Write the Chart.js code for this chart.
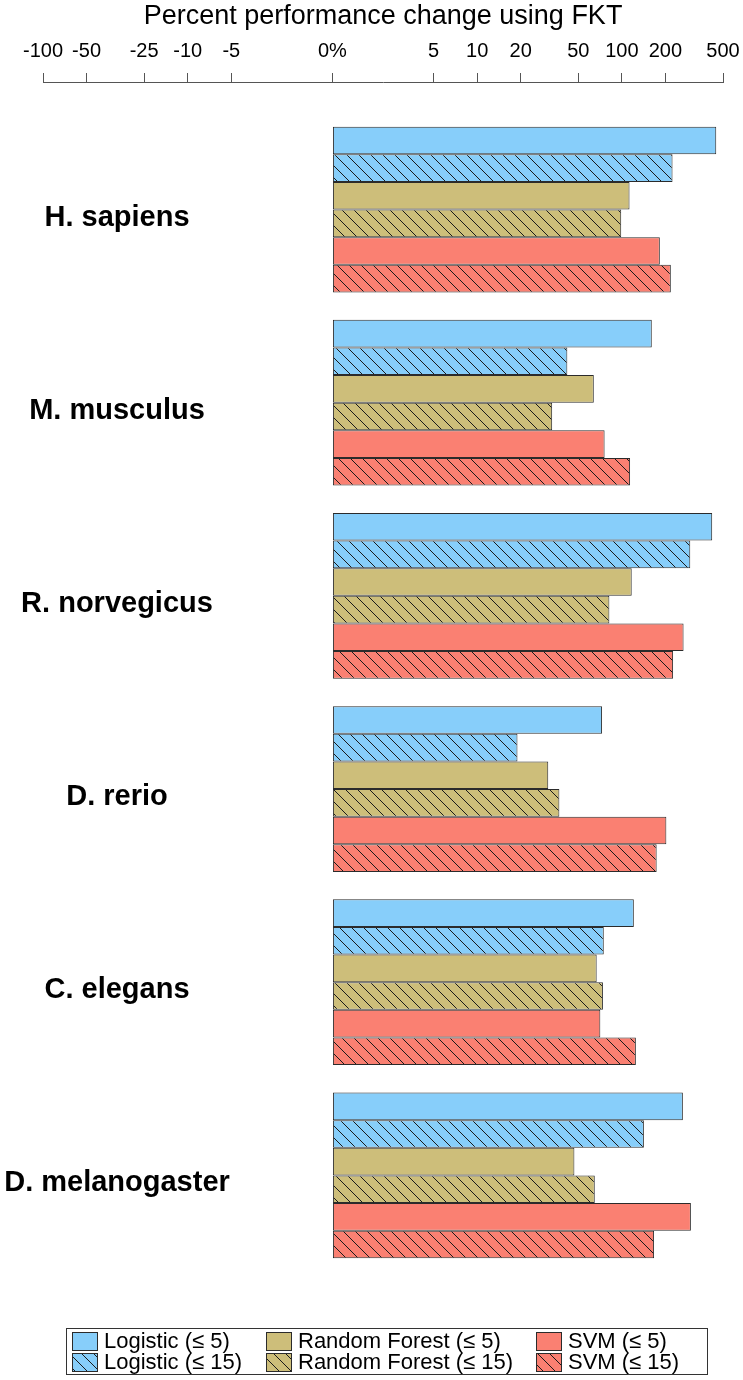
<!DOCTYPE html>
<html>
<head>
<meta charset="utf-8">
<script src="https://cdn.jsdelivr.net/npm/chart.js@4.4.0/dist/chart.umd.min.js"></script>
<style>
  body { margin: 0; background: #fff; }
  canvas { display: block; }
</style>
</head>
<body>
<canvas id="myChart" width="743" height="1380"></canvas>
<script>
// species, top to bottom
const categories = ['H. sapiens', 'M. musculus', 'R. norvegicus', 'D. rerio', 'C. elegans', 'D. melanogaster'];

// percent performance change
const logistic5  = [449, 161, 421, 73, 121, 264];
const logistic15 = [224, 42, 297, 19, 75, 142];
const forest5    = [113, 64, 117, 31, 67, 47];
const forest15   = [99, 33, 82, 37, 74, 65];
const svm5       = [183, 76, 267, 203, 71, 300];
const svm15      = [218, 114, 226, 174, 125, 167];

const seriesLabels = ['Logistic (\u2264 5)', 'Logistic (\u2264 15)', 'Random Forest (\u2264 5)',
  'Random Forest (\u2264 15)', 'SVM (\u2264 5)', 'SVM (\u2264 15)'];

// axis ticks (where they sit on the signed log axis, and what is printed)
const tickValues = [-100, -50, -20, -10, -5, 0, 5, 10, 20, 50, 100, 200, 500];
const tickLabels = ['-100', '-50', '-25', '-10', '-5', '0%', '5', '10', '20', '50', '100', '200', '500'];

const FONT = '"Liberation Sans", Arial, Helvetica, sans-serif';
const blue = '#87CEFA', tan = '#CDBE7A', salmon = '#FA8072';

function signedLog(v) {
  if (v === 0) return 0;
  return Math.sign(v) * Math.log10(Math.abs(v));
}

function hatch(color) {
  const s = 12;
  const tile = document.createElement('canvas');
  tile.width = s; tile.height = s;
  const c = tile.getContext('2d');
  c.fillStyle = color;
  c.fillRect(0, 0, s, s);
  c.strokeStyle = '#1a1a1a';
  c.lineWidth = 1;
  c.beginPath();
  c.moveTo(-1, -1); c.lineTo(s + 1, s + 1);
  c.moveTo(s - 1, -1); c.lineTo(s + 1, 1);
  c.moveTo(-1, s - 1); c.lineTo(1, s + 1);
  c.stroke();
  return c.createPattern(tile, 'repeat');
}

const fills = [blue, hatch(blue), tan, hatch(tan), salmon, hatch(salmon)];
const values = [logistic5, logistic15, forest5, forest15, svm5, svm15];

const datasets = values.map((vals, k) => ({
  label: seriesLabels[k],
  data: vals.map((v, i) => ({ x: signedLog(v), y: i })),
  backgroundColor: fills[k],
  borderColor: '#2b2b2b',
  borderWidth: 1,
  borderSkipped: false,
  categoryPercentage: 0.858,
  barPercentage: 1.0
}));

// species names and legend, drawn on the canvas
const extras = {
  id: 'extras',
  afterDraw(chart) {
    const ctx = chart.ctx;
    const y = chart.scales.y;
    ctx.save();
    ctx.fillStyle = '#000';
    ctx.font = 'bold 29px ' + FONT;
    ctx.textAlign = 'center';
    ctx.textBaseline = 'middle';
    categories.forEach((c, i) => ctx.fillText(c, 117, y.getPixelForValue(i) + 8));

    // legend box
    ctx.strokeStyle = '#333';
    ctx.lineWidth = 1;
    ctx.strokeRect(66.5, 1328.5, 641, 46);
    const cols = [72, 266, 536];
    const rows = [1341, 1362];
    ctx.font = '22px ' + FONT;
    ctx.textAlign = 'left';
    for (let k = 0; k < 6; k++) {
      const col = cols[Math.floor(k / 2)];
      const row = rows[k % 2];
      ctx.fillStyle = fills[k];
      ctx.fillRect(col, row - 9, 25, 18);
      ctx.strokeStyle = '#2b2b2b';
      ctx.strokeRect(col + 0.5, row - 9 + 0.5, 25, 18);
      ctx.fillStyle = '#000';
      ctx.fillText(seriesLabels[k], col + 32, row + 1);
    }
    ctx.restore();
  }
};

const ctx = document.getElementById('myChart').getContext('2d');
const chart = new Chart(ctx, {
  type: 'bar',
  data: { datasets: datasets },
  options: {
    indexAxis: 'y',
    responsive: false,
    animation: false,
    devicePixelRatio: 1,
    layout: { padding: { left: 43, right: 20, top: 0, bottom: 108 } },
    plugins: { legend: { display: false }, tooltip: { enabled: false } },
    scales: {
      x: {
        type: 'linear',
        position: 'top',
        min: signedLog(-100),
        max: signedLog(500),
        afterFit: (scale) => {
          scale.height = 82;
          scale.paddingLeft = 0;
          scale.paddingRight = 0;
        },
        afterBuildTicks: (scale) => {
          scale.ticks = tickValues.map(v => ({ value: signedLog(v) }));
        },
        ticks: {
          autoSkip: false,
          maxRotation: 0,
          padding: 10,
          color: '#000',
          font: { family: FONT, size: 20 },
          callback: (val, idx) => tickLabels[idx]
        },
        grid: { drawOnChartArea: false, drawTicks: true, tickLength: 9, color: '#555' },
        border: { display: true, color: '#555', width: 1 },
        title: {
          display: true,
          text: 'Percent performance change using FKT',
          color: '#000',
          font: { family: FONT, size: 27 },
          padding: 0
        }
      },
      y: {
        type: 'linear',
        display: false,
        reverse: true,
        offset: false,
        min: -0.66,
        max: 5.5,
        afterBuildTicks: (scale) => {
          scale.ticks = categories.map((c, i) => ({ value: i }));
        }
      }
    }
  },
  plugins: [extras]
});
</script>
</body>
</html>
